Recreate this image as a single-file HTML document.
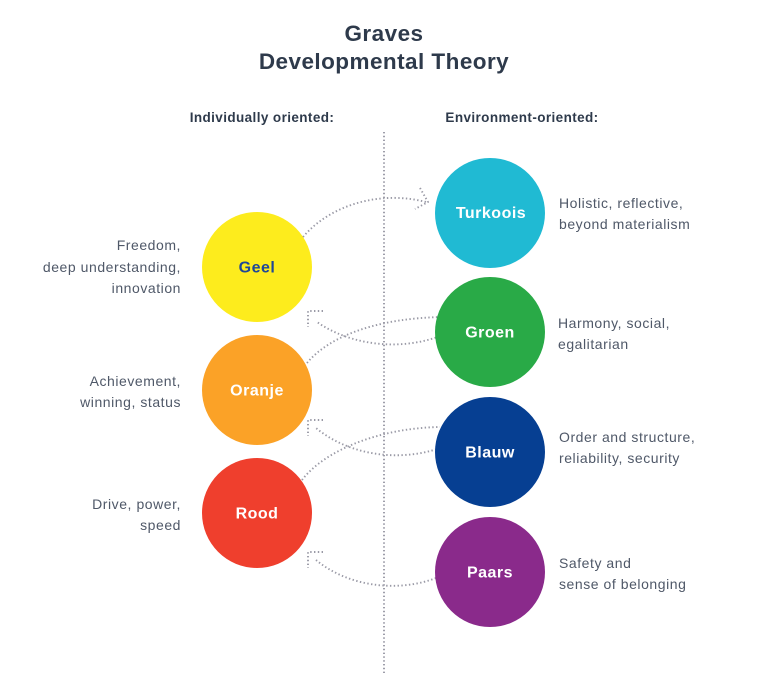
<!DOCTYPE html>
<html>
<head>
<meta charset="utf-8">
<style>
  html,body{margin:0;padding:0;background:#fff;}
  svg{display:block;}
  .title{font-family:"Liberation Sans",sans-serif;font-weight:bold;font-size:22.5px;fill:#2e3a4b;letter-spacing:0.45px;}
  .hdr{font-family:"Liberation Sans",sans-serif;font-weight:bold;font-size:13.5px;fill:#2e3a4b;letter-spacing:0.4px;}
  .desc{font-family:"Liberation Sans",sans-serif;font-size:14px;fill:#4f5868;letter-spacing:0.55px;}
  .lbl{font-family:"Liberation Sans",sans-serif;font-weight:bold;font-size:16px;fill:#fff;letter-spacing:0.5px;}
  .dot{fill:none;stroke:#9a9aa6;stroke-width:1.9;stroke-dasharray:1.4 2.4;stroke-linecap:butt;stroke-linejoin:round;}
</style>
</head>
<body>
<svg width="768" height="694" viewBox="0 0 768 694" xmlns="http://www.w3.org/2000/svg">
  <rect width="768" height="694" fill="#fff"/>

  <!-- Title -->
  <text class="title" x="384" y="41" text-anchor="middle">Graves</text>
  <text class="title" x="384" y="69" text-anchor="middle">Developmental Theory</text>

  <!-- Headers -->
  <text class="hdr" x="262" y="122" text-anchor="middle">Individually oriented:</text>
  <text class="hdr" x="522" y="122" text-anchor="middle">Environment-oriented:</text>

  <!-- Vertical dotted divider -->
  <path class="dot" d="M384,132 L384,674"/>

  <!-- Connectors -->
  <!-- Geel -> Turkoois -->
  <path class="dot" d="M303,237 C330,205 380,190 426,202"/>
  <path class="dot" d="M420,188 L428,202 L415,209"/>
  <!-- Groen -> Geel -->
  <path class="dot" d="M443,335 C400,352 350,345 317,322"/>
  <path class="dot" d="M323,311 L308,311 L308,327"/>
  <!-- Oranje -> Groen -->
  <path class="dot" d="M307,363 C330,335 380,318 443,317"/>
  <!-- Rood -> Blauw -->
  <path class="dot" d="M302,480 C325,450 380,428 440,427"/>
  <!-- Blauw -> Oranje -->
  <path class="dot" d="M440,448 C400,462 350,456 316,428"/>
  <path class="dot" d="M323,420 L308,420 L308,436"/>
  <!-- Paars -> Rood -->
  <path class="dot" d="M436,578 C400,592 350,588 316,560"/>
  <path class="dot" d="M323,552 L308,552 L308,568"/>

  <!-- Left circles -->
  <circle cx="257" cy="267" r="55" fill="#fdec1d"/>
  <text class="lbl" x="257" y="272.5" text-anchor="middle" style="fill:#1f4797">Geel</text>
  <circle cx="257" cy="390" r="55" fill="#fba227"/>
  <text class="lbl" x="257" y="395.5" text-anchor="middle">Oranje</text>
  <circle cx="257" cy="513" r="55" fill="#ef3f2d"/>
  <text class="lbl" x="257" y="518.5" text-anchor="middle">Rood</text>

  <!-- Right circles -->
  <circle cx="490" cy="213" r="55" fill="#20bad3"/>
  <text class="lbl" x="491" y="218" text-anchor="middle">Turkoois</text>
  <circle cx="490" cy="332" r="55" fill="#29aa47"/>
  <text class="lbl" x="490" y="337.5" text-anchor="middle">Groen</text>
  <circle cx="490" cy="452" r="55" fill="#063f92"/>
  <text class="lbl" x="490" y="457.5" text-anchor="middle">Blauw</text>
  <circle cx="490" cy="572" r="55" fill="#8a2a8b"/>
  <text class="lbl" x="490" y="577.5" text-anchor="middle">Paars</text>

  <!-- Left descriptions -->
  <text class="desc" x="181" y="250" text-anchor="end">Freedom,</text>
  <text class="desc" x="181" y="272" text-anchor="end">deep understanding,</text>
  <text class="desc" x="181" y="293" text-anchor="end">innovation</text>

  <text class="desc" x="181" y="386" text-anchor="end">Achievement,</text>
  <text class="desc" x="181" y="407" text-anchor="end">winning, status</text>

  <text class="desc" x="181" y="509" text-anchor="end">Drive, power,</text>
  <text class="desc" x="181" y="530" text-anchor="end">speed</text>

  <!-- Right descriptions -->
  <text class="desc" x="559" y="208">Holistic, reflective,</text>
  <text class="desc" x="559" y="229">beyond materialism</text>

  <text class="desc" x="558" y="328">Harmony, social,</text>
  <text class="desc" x="558" y="349">egalitarian</text>

  <text class="desc" x="559" y="442">Order and structure,</text>
  <text class="desc" x="559" y="463">reliability, security</text>

  <text class="desc" x="559" y="568">Safety and</text>
  <text class="desc" x="559" y="589">sense of belonging</text>
</svg>
</body>
</html>
